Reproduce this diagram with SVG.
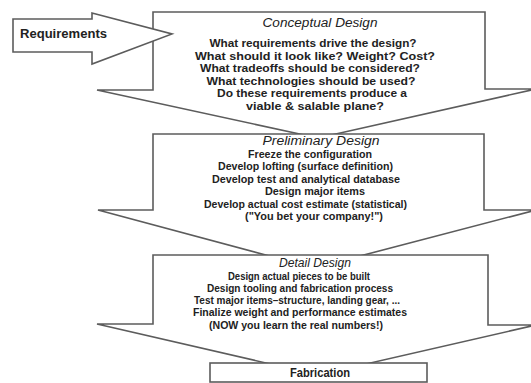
<svg xmlns="http://www.w3.org/2000/svg" width="531" height="383" viewBox="0 0 531 383">
  <style>
    .shape { fill: #ffffff; stroke: #5c5c5c; stroke-width: 1.6; stroke-linejoin: miter; }
    .body { font-family: "Liberation Sans", Arial, sans-serif; font-weight: bold; font-size: 11px; fill: #222222; text-anchor: middle; }
    .title { font-family: "Liberation Sans", Arial, sans-serif; font-style: italic; font-size: 12px; fill: #222222; text-anchor: middle; }
    .label { font-family: "Liberation Sans", Arial, sans-serif; font-weight: bold; font-size: 12px; fill: #222222; }
  </style>
  <rect width="531" height="383" fill="#ffffff"/>

  <g id="stages">
    <!-- Conceptual design block arrow -->
    <g id="conceptual">
      <polygon class="shape" points="153,12 485,12 485,89 536,89 318,138 97,90 153,90"/>
      <text class="title" x="320" y="27" textLength="115" lengthAdjust="spacingAndGlyphs">Conceptual Design</text>
      <text class="body" x="313" y="47" textLength="207" lengthAdjust="spacingAndGlyphs">What requirements drive the design?</text>
      <text class="body" x="315" y="59.5" textLength="240" lengthAdjust="spacingAndGlyphs">What should it look like? Weight? Cost?</text>
      <text class="body" x="310" y="72" textLength="220" lengthAdjust="spacingAndGlyphs">What tradeoffs should be considered?</text>
      <text class="body" x="311" y="84.5" textLength="209" lengthAdjust="spacingAndGlyphs">What technologies should be used?</text>
      <text class="body" x="312" y="97" textLength="190" lengthAdjust="spacingAndGlyphs">Do these requirements produce a</text>
      <text class="body" x="315" y="109.5" textLength="138" lengthAdjust="spacingAndGlyphs">viable &amp; salable plane?</text>
    </g>

    <!-- Preliminary design block arrow -->
    <g id="preliminary">
      <polygon class="shape" points="153,134 484,134 484,210 536,210 314,268 98,210 153,210"/>
      <text class="title" x="321" y="145" textLength="117" lengthAdjust="spacingAndGlyphs">Preliminary Design</text>
      <text class="body" x="310" y="158" textLength="124" lengthAdjust="spacingAndGlyphs">Freeze the configuration</text>
      <text class="body" x="305.5" y="170.4" textLength="175" lengthAdjust="spacingAndGlyphs">Develop lofting (surface definition)</text>
      <text class="body" x="306" y="182.8" textLength="188" lengthAdjust="spacingAndGlyphs">Develop test and analytical database</text>
      <text class="body" x="315" y="195.2" textLength="100" lengthAdjust="spacingAndGlyphs">Design major items</text>
      <text class="body" x="305.5" y="207.6" textLength="203" lengthAdjust="spacingAndGlyphs">Develop actual cost estimate (statistical)</text>
      <text class="body" x="314" y="220" textLength="138" lengthAdjust="spacingAndGlyphs">("You bet your company!")</text>
    </g>

    <!-- Detail design block arrow -->
    <g id="detail">
      <polygon class="shape" points="153,255 488,255 488,325 536,325 318,375 97,324 153,324"/>
      <text class="title" x="315" y="267" textLength="72" lengthAdjust="spacingAndGlyphs">Detail Design</text>
      <text class="body" x="299" y="279.5" textLength="142" lengthAdjust="spacingAndGlyphs">Design actual pieces to be built</text>
      <text class="body" x="300" y="291.8" textLength="186" lengthAdjust="spacingAndGlyphs">Design tooling and fabrication process</text>
      <text class="body" x="297" y="304.1" textLength="206" lengthAdjust="spacingAndGlyphs">Test major items–structure, landing gear, ...</text>
      <text class="body" x="300" y="316.4" textLength="214" lengthAdjust="spacingAndGlyphs">Finalize weight and performance estimates</text>
      <text class="body" x="296" y="328.7" textLength="174" lengthAdjust="spacingAndGlyphs">(NOW you learn the real numbers!)</text>
    </g>

    <!-- Fabrication box -->
    <g id="fabrication">
      <rect class="shape" x="210" y="363" width="217" height="19"/>
      <text class="label" x="320" y="377" text-anchor="middle" textLength="60" lengthAdjust="spacingAndGlyphs">Fabrication</text>
    </g>
  </g>

  <!-- Input arrow feeding the first stage -->
  <g id="connectors">
    <g id="requirements">
      <polygon class="shape" points="13,19 92,19 92,13 172,34 92,64 92,52 13,52"/>
      <text class="label" x="20" y="38" font-size="13" textLength="87" lengthAdjust="spacingAndGlyphs">Requirements</text>
    </g>
  </g>
</svg>
